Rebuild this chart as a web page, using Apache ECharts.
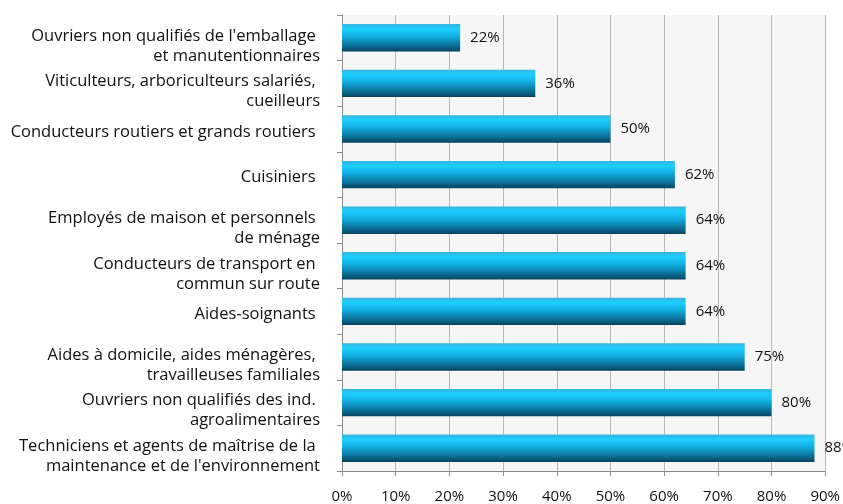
<!DOCTYPE html>
<html>
<head>
<meta charset="utf-8">
<script src="https://cdn.jsdelivr.net/npm/echarts@6/dist/echarts.min.js"></script>
<style>
  html, body { margin: 0; padding: 0; background: #fff; }
  #chart { width: 843px; height: 504px; }
</style>
</head>
<body>
<div id="chart"></div>
<script>
// catégories, du haut vers le bas
var categories = [
  "Ouvriers non qualifiés de l'emballage \net manutentionnaires",
  "Viticulteurs, arboriculteurs salariés, \ncueilleurs",
  "Conducteurs routiers et grands routiers ",
  "Cuisiniers ",
  "Employés de maison et personnels \nde ménage",
  "Conducteurs de transport en \ncommun sur route",
  "Aides-soignants ",
  "Aides à domicile, aides ménagères, \ntravailleuses familiales",
  "Ouvriers non qualifiés des ind. \nagroalimentaires",
  "Techniciens et agents de maîtrise de la \nmaintenance et de l'environnement"
];
var values = [22, 36, 50, 62, 64, 64, 64, 75, 80, 88];
var xTicks = [0, 10, 20, 30, 40, 50, 60, 70, 80, 90];

var chart = echarts.init(document.getElementById("chart"), null, { renderer: "canvas" });
var font = "'Open Sans', sans-serif";

// une ligne vide en tête pour descendre un peu les libellés, comme dans l'original
function yLabel(v) {
  var lines = v.split("\n");
  var head = lines.length > 1 ? "{e2| }" : "{e1| }";
  return head + "\n" + lines.map(function (l) { return "{t|" + l + "}"; }).join("\n");
}

chart.setOption({
  animation: false,
  grid: {
    left: 342,
    right: 14,
    top: 15,
    bottom: 33,
    show: true,
    backgroundColor: "#f6f6f6",
    borderWidth: 0
  },
  xAxis: {
    type: "value",
    min: xTicks[0],
    max: xTicks[xTicks.length - 1],
    interval: 10,
    axisLine: { show: true, lineStyle: { color: "#8c8c8c", width: 1 } },
    axisTick: { show: true, length: 5, lineStyle: { color: "#8c8c8c" } },
    axisLabel: {
      margin: 18,
      color: "#111",
      fontFamily: font,
      fontSize: 15,
      formatter: function (v) { return v + "%"; }
    },
    splitLine: { show: true, lineStyle: { color: "#b8b8b8", width: 1 } }
  },
  yAxis: {
    type: "category",
    data: categories,
    inverse: true,
    axisLine: { show: true, lineStyle: { color: "#8c8c8c", width: 1 } },
    axisTick: { show: true, length: 5, lineStyle: { color: "#8c8c8c" } },
    axisLabel: {
      interval: 0,
      showMinLabel: true,
      showMaxLabel: true,
      hideOverlap: false,
      margin: 22,
      align: "right",
      formatter: yLabel,
      rich: {
        e1: { fontSize: 4, lineHeight: 6 },
        e2: { fontSize: 4, lineHeight: 16 },
        t: { color: "#111", fontFamily: font, fontSize: 16.5, lineHeight: 20, align: "right" }
      }
    }
  },
  series: [
    {
      type: "bar",
      data: values,
      barCategoryGap: "40%",
      itemStyle: {
        color: new echarts.graphic.LinearGradient(0, 0, 0, 1, [
          { offset: 0, color: "#38b4dc" },
          { offset: 0.18, color: "#1ccfff" },
          { offset: 0.45, color: "#12aee2" },
          { offset: 0.8, color: "#0a6d94" },
          { offset: 1, color: "#06445e" }
        ])
      },
      label: {
        show: true,
        position: "right",
        distance: 10,
        color: "#111",
        fontFamily: font,
        fontSize: 15,
        formatter: function (p) { return p.value + "%"; }
      }
    }
  ]
});
</script>
</body>
</html>
